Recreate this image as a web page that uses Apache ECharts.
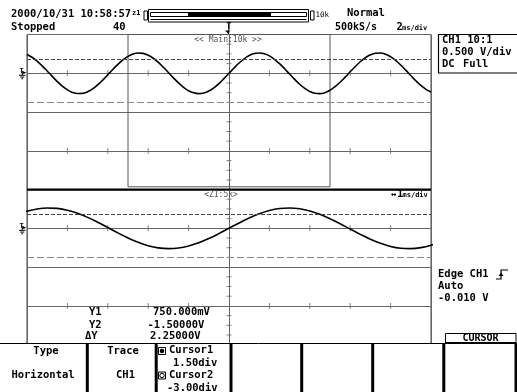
<!DOCTYPE html>
<html><head><meta charset="utf-8">
<script src="https://cdn.jsdelivr.net/npm/echarts@6/dist/echarts.min.js"></script>
<style>html,body{margin:0;padding:0;background:#fff}#c{width:517px;height:392px}</style>
</head><body><div id="c"></div>
<script>
// ---- data (time in ms relative to trigger, CH1 in volts) ----
const timeMs = [-10,-9.75,-9.5,-9.25,-9,-8.75,-8.5,-8.25,-8,-7.75,-7.5,-7.25,-7,-6.75,-6.5,-6.25,-6,-5.75,-5.5,-5.25,
  -5,-4.75,-4.5,-4.25,-4,-3.75,-3.5,-3.25,-3,-2.75,-2.5,-2.25,-2,-1.75,-1.5,-1.25,-1,-0.75,-0.5,-0.25,
  0,
  0.25,0.5,0.75,1,1.25,1.5,1.75,2,2.25,2.5,2.75,3,3.25,3.5,3.75,4,4.25,4.5,4.75,5,
  5.25,5.5,5.75,6,6.25,6.5,6.75,7,7.25,7.5,7.75,8,8.25,8.5,8.75,9,9.25,9.5,9.75,10];
const ch1Volts = [0.967,0.826,0.628,0.386,0.116,-0.161,-0.427,-0.663,-0.853,-0.984,
  -1.045,-1.034,-0.951,-0.802,-0.596,-0.349,-0.078,0.199,0.462,0.693,
  0.875,0.997,1.048,1.027,0.934,0.776,0.564,0.312,0.039,-0.237,
  -0.497,-0.721,-0.896,-1.008,-1.050,-1.018,-0.916,-0.749,-0.531,-0.275,
  0,
  0.275,0.531,0.749,0.916,1.018,1.050,1.008,0.896,0.721,0.497,
  0.237,-0.039,-0.312,-0.564,-0.776,-0.934,-1.027,-1.048,-0.997,-0.875,
  -0.693,-0.462,-0.199,0.078,0.349,0.596,0.802,0.951,1.034,1.045,
  0.984,0.853,0.663,0.427,0.161,-0.116,-0.386,-0.628,-0.826,-0.967];
const cursorVolts = [0.75, -1.5];          // Y1, Y2
const voltsPerDiv = 0.5;
const mainRangeMs = [-10, 10];             // 2 ms/div
const zoomRangeMs = [-5, 5];               // 1 ms/div
const screenVolts = [-6, 2];
const mainDivTicksMs = [-8,-6,-4,-2,2,4,6,8];
const zoomDivTicksMs = [-4,-3,-2,-1,1,2,3,4];
const hLineTickVolts = [0, -4];
const vLineTickVolts = [1.5,1,0.5,-0.5,-1,-1.5,-2.5,-3,-3.5,-4.5,-5,-5.5];
const zoomBoxVolts = [2, -5.85];

const GRID = '#666', BORDER = '#444';
const waveData = timeMs.map((t, i) => [t, ch1Volts[i]]);
function tickPts(ts, vs){ const o=[]; vs.forEach(v=>ts.forEach(t=>o.push([t,v]))); return o; }

function xAx(gi, r){ return {type:'value', gridIndex:gi, min:r[0], max:r[1], interval:r[1],
  axisLine:{show:false}, axisTick:{show:false}, axisLabel:{show:false},
  splitLine:{show:true, lineStyle:{color:GRID, width:1}}}; }
function yAx(gi){ return {type:'value', gridIndex:gi, min:screenVolts[0], max:screenVolts[1], interval:2,
  axisLine:{show:false}, axisTick:{show:false}, axisLabel:{show:false},
  splitLine:{show:true, lineStyle:{color:GRID, width:1}}}; }
const cursorLines = {silent:true, symbol:'none', label:{show:false}, animation:false,
  data:[{yAxis:cursorVolts[0], lineStyle:{color:'#444', width:1, type:[4,2]}},
        {yAxis:cursorVolts[1], lineStyle:{color:'#888', width:1.2, type:[7,3]}}]};

const chart = echarts.init(document.getElementById('c'), null, {renderer:'canvas'});
chart.setOption({
  animation:false,
  backgroundColor:'#fff',
  grid:[
    {left:27, top:34.5, width:404, height:155.2, show:true, borderColor:BORDER, borderWidth:1},
    {left:27, top:189.5, width:404, height:155.2, show:true, borderColor:BORDER, borderWidth:1}
  ],
  xAxis:[xAx(0, mainRangeMs), xAx(1, zoomRangeMs)],
  yAxis:[yAx(0), yAx(1)],
  series:[
    {type:'line', xAxisIndex:0, yAxisIndex:0, data:waveData, smooth:0.4, showSymbol:false,
     lineStyle:{color:'#000', width:1.6}, clip:true, markLine:cursorLines,
     markArea:{silent:true, itemStyle:{color:'rgba(0,0,0,0)', borderColor:'#555', borderWidth:1},
       data:[[{xAxis:zoomRangeMs[0], yAxis:zoomBoxVolts[0]},{xAxis:zoomRangeMs[1], yAxis:zoomBoxVolts[1]}]]}},
    {type:'line', xAxisIndex:1, yAxisIndex:1, data:waveData, smooth:0.4, showSymbol:false,
     lineStyle:{color:'#000', width:1.6}, clip:true, markLine:cursorLines},
    {type:'scatter', xAxisIndex:0, yAxisIndex:0, data:tickPts(mainDivTicksMs, hLineTickVolts), symbol:'rect', symbolSize:[1,6], itemStyle:{color:GRID}, silent:true},
    {type:'scatter', xAxisIndex:1, yAxisIndex:1, data:tickPts(zoomDivTicksMs, hLineTickVolts), symbol:'rect', symbolSize:[1,6], itemStyle:{color:GRID}, silent:true},
    {type:'scatter', xAxisIndex:0, yAxisIndex:0, data:vLineTickVolts.map(v=>[0,v]), symbol:'rect', symbolSize:[5,1], itemStyle:{color:GRID}, silent:true},
    {type:'scatter', xAxisIndex:1, yAxisIndex:1, data:vLineTickVolts.map(v=>[0,v]), symbol:'rect', symbolSize:[5,1], itemStyle:{color:GRID}, silent:true}
  ]
});

// ---- decorations (text readouts, frames, markers) ----
const mono = '"DejaVu Sans Mono","Liberation Mono",monospace';
function T(x,y,text,size,o){ o=o||{}; return {type:'text', z:110, style:{text:text, x:x, y:y,
  font:(o.w||'bold')+' '+size+'px '+mono, fill:o.c||'#000', textAlign:o.a||'left', textVerticalAlign:'middle'}}; }
function L(x1,y1,x2,y2,w,c,z){ return {type:'line', z:z||105, shape:{x1:x1,y1:y1,x2:x2,y2:y2}, style:{stroke:c||'#000', lineWidth:w||1}}; }
function R(x,y,w,h,o){ o=o||{}; return {type:'rect', z:o.z||105, shape:{x:x,y:y,width:w,height:h},
  style:{fill:o.fill||'none', stroke:o.stroke||null, lineWidth:o.lw||1}}; }
function P(pts,fill){ return {type:'polygon', z:110, shape:{points:pts}, style:{fill:fill||'#000'}}; }
function PL(pts,w){ return {type:'polyline', z:110, shape:{points:pts}, style:{stroke:'#000', lineWidth:w||1, fill:'none'}}; }
function fmtV(v){ return Math.abs(v) < 1 ? (v*1000).toFixed(3)+'mV' : v.toFixed(5)+'V'; }
function fmtDiv(v){ return (v/voltsPerDiv).toFixed(2)+'div'; }

const g = [];
// header
g.push(T(11,14,'2000/10/31 10:58:57',10.5));
g.push(T(132,13,'z1',7));
g.push(R(144,11,3.5,9,{stroke:'#000'}));
g.push(R(148.5,9.5,160,12.5,{stroke:'#000'}));
g.push(R(150.5,12.5,156,4,{stroke:'#000'}));
g.push(R(188,12.5,83,4,{fill:'#000'}));
g.push(L(150.5,19.5,306.5,19.5,1));
g.push(R(310.5,11,3.5,9,{stroke:'#000'}));
g.push(T(315.5,15,'10k',7.5,{w:'normal'}));
g.push(T(347,13.5,'Normal',10.5));
g.push(T(11,27,'Stopped',10.5));
g.push(T(113,27,'40',10.5));
g.push(T(335,27,'500kS/s',10));
g.push(T(396.5,27,'2',10.5));
g.push(T(402,28,'ms/div',7));

// right info box
g.push(R(438.5,34.5,85,38.5,{stroke:'#000', lw:1.2}));
g.push(T(442,40,'CH1 10:1',10.5));
g.push(T(442,52.7,'0.500 V/div',10.5));
g.push(T(442,64.7,'DC',10.5));
g.push(T(463,64.7,'Full',10.5));

// trigger info
g.push(T(438,274,'Edge CH1',10.5));
g.push(PL([[496,279],[501,279],[501,270],[508,270]],1.2));
g.push(P([[498.5,276],[503.5,276],[501,272.5]]));
g.push(T(438,286.7,'Auto',10.5));
g.push(T(438,298.7,'-0.010 V',10.5));

// window labels
g.push(T(228,39.5,'<< Main:10k >>',8,{w:'normal', c:'#555', a:'center'}));
g.push(T(221,195,'<Z1:5k>',8,{w:'normal', c:'#555', a:'center'}));
g.push(T(391,194.5,'\u2194',9));
g.push(T(397,194.5,'1',10.5));
g.push(T(402.5,195.5,'ms/div',7));

// window separator
g.push(L(27,189.6,431,189.6,2.2,'#000'));

// cursor readouts
g.push(T(89,312.7,'Y1',10.5));
g.push(T(153,312.7,fmtV(cursorVolts[0]),10.5));
g.push(T(89,325.7,'Y2',10.5));
g.push(T(147.5,325.7,fmtV(cursorVolts[1]),10.5));
g.push(T(85,336.5,'\u0394Y',10.5));
g.push(T(150,336.5,fmtV(cursorVolts[0]-cursorVolts[1]),10.5));

// bottom soft-key menu
g.push(R(0,343.5,517,50,{fill:'#fff', z:100}));
g.push(L(0,343.5,517,343.5,1));
[87.3,156.2,231,301.7,372.7,443.8,516].forEach(x=>g.push(L(x,343,x,392,3)));
g.push(R(445.5,333.5,70.5,10,{fill:'#fff', stroke:'#000', z:104}));
g.push(L(445.5,343,516,343,2));
g.push(T(480.5,338.3,'CURSOR',10,{a:'center'}));
g.push(T(46,351.7,'Type',10.5,{a:'center'}));
g.push(T(43,375,'Horizontal',10.5,{a:'center'}));
g.push(T(123,351.7,'Trace',10.5,{a:'center'}));
g.push(T(125.5,375,'CH1',10.5,{a:'center'}));
g.push(R(158.5,347.5,7,7,{stroke:'#000'}));
g.push({type:'circle', z:110, shape:{cx:162,cy:351,r:2.3}, style:{fill:'#000'}});
g.push(T(169,350.7,'Cursor1',10.5));
g.push(T(173,363.3,fmtDiv(cursorVolts[0]),10.5));
g.push(R(158.5,372,7,7,{stroke:'#000'}));
g.push({type:'circle', z:110, shape:{cx:162,cy:375.5,r:2.2}, style:{fill:'none', stroke:'#000', lineWidth:1}});
g.push(T(169,375.7,'Cursor2',10.5));
g.push(T(167,388,fmtDiv(cursorVolts[1]),10.5));

// ground markers (at 0 V) and trigger position marker (at 0 ms)
[0,1].forEach(gi=>{
  const p = chart.convertToPixel({gridIndex:gi}, [gi===0?mainRangeMs[0]:zoomRangeMs[0], 0]);
  g.push(T(p[0]-7.5, p[1]-1.8, 'T', 7));
  g.push(P([[p[0]-4.8,p[1]-2.6],[p[0]-4.8,p[1]+1],[p[0]-0.6,p[1]-0.6]]));
  g.push(L(p[0]-4.8,p[1],p[0]-4.8,p[1]+2,1));
  g.push(L(p[0]-8,p[1]+2,p[0]-1.5,p[1]+2,1));
  g.push(L(p[0]-6.8,p[1]+3.8,p[0]-2.7,p[1]+3.8,1));
  g.push(L(p[0]-5.6,p[1]+5.5,p[0]-4,p[1]+5.5,1));
});
const tp = chart.convertToPixel({gridIndex:0}, [0, screenVolts[1]]);
g.push(T(tp[0]-2.5, 27, 'T', 8));
g.push(L(tp[0]-0.2, 23.5, tp[0]-0.2, 31, 1));
g.push(P([[tp[0]-3.8,30.5],[tp[0]+0.8,30.5],[tp[0]-0.2,34.5]]));

chart.setOption({graphic:{elements:g}});
</script></body></html>
